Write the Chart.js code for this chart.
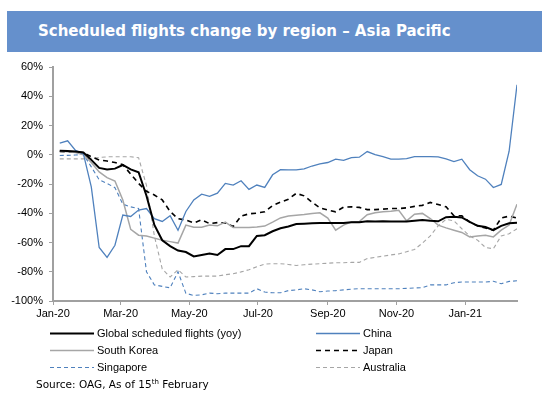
<!DOCTYPE html>
<html>
<head>
<meta charset="utf-8">
<script src="https://cdn.jsdelivr.net/npm/chart.js@4"></script>
<style>
  body { margin: 0; background: #fff; }
  #wrap { position: relative; width: 559px; height: 393px; overflow: hidden; }
  #chart { position: absolute; left: 0; top: 0; }
  .title {
    position: absolute; left: 7px; top: 11px; width: 535px; height: 41px;
    background: #6590cc; color: #fff;
    font: bold 15px "DejaVu Sans", sans-serif; line-height: 41px;
    padding-left: 31px; box-sizing: border-box; white-space: nowrap;
  }
  .legend { position: absolute; left: 0; top: 326px; font: 11px "Liberation Sans", Arial, sans-serif; color: #000; }
  .legend .item { position: absolute; white-space: nowrap; height: 14px; line-height: 14px; }
  .legend svg { position: absolute; top: 0; }
  .legend span { position: absolute; top: 0; }
  .source { position: absolute; left: 36px; top: 378px; font: 10.5px "DejaVu Sans", sans-serif; color: #000; white-space: nowrap; }
  .source sup { font-size: 7px; vertical-align: 4px; line-height: 0; }
</style>
</head>
<body>
<div id="wrap">
  <canvas id="chart" width="559" height="393"></canvas>
  <div class="title">Scheduled flights change by region – Asia Pacific</div>
  <div class="legend" id="legend"></div>
  <div class="source">Source: OAG, As of 15<sup>th</sup> February</div>
</div>
<script>
// weekly series, first week 7 Jan 2020, values in % yoy
const axisStart = '2020-01-01';
const firstWeek = '2020-01-07';

const tickDates  = ['2020-01-01', '2020-03-01', '2020-05-01', '2020-07-01', '2020-09-01', '2020-11-01', '2021-01-01'];
const tickLabels = ['Jan-20', 'Mar-20', 'May-20', 'Jul-20', 'Sep-20', 'Nov-20', 'Jan-21'];

const globalFlights = [2.8, 2.5, 2.2, 1.6, -3.5, -9, -10, -9.5, -7, -10, -12, -28, -48, -58.5, -62.5, -65.5, -66.5, -69.5, -68.5, -67.5,
  -68.5, -64.5, -64.5, -62.5, -62.5, -55.5, -55, -52.3, -50.3, -49, -47.3, -47.1, -46.9, -46.7, -46.6, -46.7, -46.7, -46.2, -46.2, -45.5,
  -45.7, -45.5, -45.7, -45.7, -45.7, -45.2, -44.7, -45.2, -45.5, -42.7, -42.4, -42.9, -45.9, -48.6, -49.4, -51.5, -48.6, -46.9, -46.5];

const china = [8, 9.5, 3, 0.6, -22, -63.4, -70.2, -61.9, -41.2, -42.2, -37.8, -36.8, -43.7, -45.6, -41.7, -51.6, -38.8, -30.9, -27, -28.4,
  -26.3, -19.6, -20.7, -17.8, -23.7, -20.7, -22.3, -13.7, -10.2, -10.4, -10.4, -9.7, -7.7, -6.3, -5.3, -3, -3.9, -2, -1.7, 2.2,
  0.1, -1.3, -3, -3, -2.7, -1.3, -1.3, -1.3, -1.5, -2.8, -4.7, -3, -10.2, -14.4, -16.7, -22.4, -20.3, 2.4, 47.8];

const southKorea = [2.5, 2, 1.6, 0, -5.3, -11.7, -15.6, -18, -30.9, -51, -55, -55.5, -57, -58.4, -59.4, -60.4, -48.1, -49.6, -49.6, -48.1,
  -48.6, -46.1, -49.8, -49.8, -49.8, -49.4, -48.8, -46.1, -43.2, -41.9, -41.3, -40.9, -40.1, -39.7, -43.3, -51.6, -48.1, -45.9, -45.7, -41,
  -39.7, -39, -38.6, -38, -45.2, -40.7, -40.1, -43.6, -48.1, -50, -51.6, -53.1, -56.2, -55.5, -55, -56.2, -51.6, -48.1, -33.8];

const japan = [2.2, 2, 1.8, 1.4, -1.4, -3.6, -4.3, -5.3, -6.8, -13.2, -19.6, -25, -27.5, -30.9, -38.8, -43.7, -44.7, -46.6, -44.5, -47.1,
  -46.4, -46.6, -49.1, -42, -40.4, -39.9, -39, -34.8, -32.4, -30.4, -26.4, -28.1, -32.4, -36.3, -37.8, -39, -35.8, -35.6, -36, -37.5,
  -37.5, -37.2, -36.8, -36.8, -36.3, -35.3, -34.6, -32.6, -34, -35.6, -41.7, -41.7, -46.1, -48.6, -50.1, -51.6, -43.2, -42, -43.2];

const singapore = [-0.5, -0.4, -0.2, 0.3, -8.3, -17.1, -19.6, -22.5, -33.8, -35.6, -36.8, -80, -89, -90, -91, -80, -94.8, -96.2, -95.8, -94.6,
  -95, -94.6, -94.6, -94.6, -94.6, -91.6, -93.9, -94.4, -94.4, -92.9, -92.4, -91.6, -92.4, -93.7, -93.2, -92.9, -92.4, -91.9, -91.6, -91.6,
  -91.6, -91.6, -91.6, -91.6, -91.4, -91.1, -90.9, -89, -89, -89, -87.5, -87, -87, -87, -87, -86.5, -88.2, -86.6, -86.2];

const australia = [-2.8, -2.8, -2.8, -2.8, -2.4, -1.9, -1.4, -1.4, -1.4, -1.4, -2, -21, -55.5, -78.1, -83.6, -78.6, -83.6, -83.3, -83, -83,
  -83, -82, -81.4, -80.1, -78.6, -76.6, -74.7, -74.5, -74.5, -75, -75.7, -75.2, -74.8, -74.5, -74.2, -73.8, -73.8, -73.6, -73.6, -71,
  -70.2, -69.3, -68.5, -67.8, -66.3, -64.8, -60.4, -55.5, -48.6, -44.2, -45.2, -50.6, -55.5, -58.4, -63.4, -64.3, -55.5, -54, -50.6];

const DAY = 86400000;
function daysFrom(start, d) {
    return Math.round((Date.parse(d) - Date.parse(start)) / DAY);
}

const firstDay = daysFrom(axisStart, firstWeek);
const tickDays = tickDates.map(d => daysFrom(axisStart, d));

function toPoints(values) {
    return values.map((v, i) => ({ x: firstDay + 7 * i, y: v }));
}

const BLUE = '#4f81bd';
const GREY = '#a6a6a6';

const series = [
    { label: 'Global scheduled flights (yoy)', data: globalFlights, color: '#000', width: 2, dash: [] },
    { label: 'China', data: china, color: BLUE, width: 1.3, dash: [] },
    { label: 'South Korea', data: southKorea, color: GREY, width: 1.5, dash: [] },
    { label: 'Japan', data: japan, color: '#000', width: 1.6, dash: [5, 4] },
    { label: 'Singapore', data: singapore, color: BLUE, width: 1.1, dash: [4, 3] },
    { label: 'Australia', data: australia, color: GREY, width: 1.1, dash: [4, 3] },
];

const lastDay = firstDay + 7 * (globalFlights.length - 1);

new Chart(document.getElementById('chart'), {
    type: 'line',
    data: {
        datasets: series.map(s => ({
            label: s.label,
            data: toPoints(s.data),
            borderColor: s.color,
            borderWidth: s.width,
            borderDash: s.dash,
            pointRadius: 0,
            tension: 0,
            fill: false,
        })),
    },
    options: {
        responsive: false,
        animation: false,
        layout: { padding: { top: 67, right: 42, bottom: 70, left: 0 } },
        plugins: { legend: { display: false }, tooltip: { enabled: false } },
        scales: {
            x: {
                type: 'linear',
                min: 0,
                max: lastDay,
                afterBuildTicks: scale => { scale.ticks = tickDays.map(v => ({ value: v })); },
                afterFit: scale => { scale.height = 22; },
                grid: { drawOnChartArea: false, tickLength: 4, color: '#a0a0a0', lineWidth: 1 },
                border: { color: '#a0a0a0', width: 2 },
                ticks: {
                    autoSkip: false,
                    maxRotation: 0,
                    padding: 2,
                    color: '#000',
                    font: { family: 'Liberation Sans', size: 11 },
                    callback: (v) => tickLabels[tickDays.indexOf(v)],
                },
            },
            y: {
                min: -100,
                max: 60,
                afterFit: scale => { scale.width = 53; },
                grid: { drawOnChartArea: false, tickLength: 4, color: '#a0a0a0', lineWidth: 1 },
                border: { color: '#a0a0a0', width: 2 },
                ticks: {
                    stepSize: 20,
                    padding: 6,
                    color: '#000',
                    font: { family: 'Liberation Sans', size: 11 },
                    callback: v => v + '%',
                },
            },
        },
    },
});

// legend laid out in two columns like the original
const legendPos = [[50, 0], [316, 0], [50, 17], [316, 17], [50, 34], [316, 34]];
const legend = document.getElementById('legend');
series.forEach((s, i) => {
    const [x, y] = legendPos[i];
    const item = document.createElement('div');
    item.className = 'item';
    item.style.left = x + 'px';
    item.style.top = y + 'px';
    const dash = s.dash.length ? `stroke-dasharray="${s.dash.join(' ')}"` : '';
    item.innerHTML =
        `<svg width="44" height="14"><line x1="0" y1="7.5" x2="44" y2="7.5" stroke="${s.color}" stroke-width="${s.width}" ${dash}/></svg>` +
        `<span style="left:47px">${s.label}</span>`;
    legend.appendChild(item);
});
</script>
</body>
</html>
